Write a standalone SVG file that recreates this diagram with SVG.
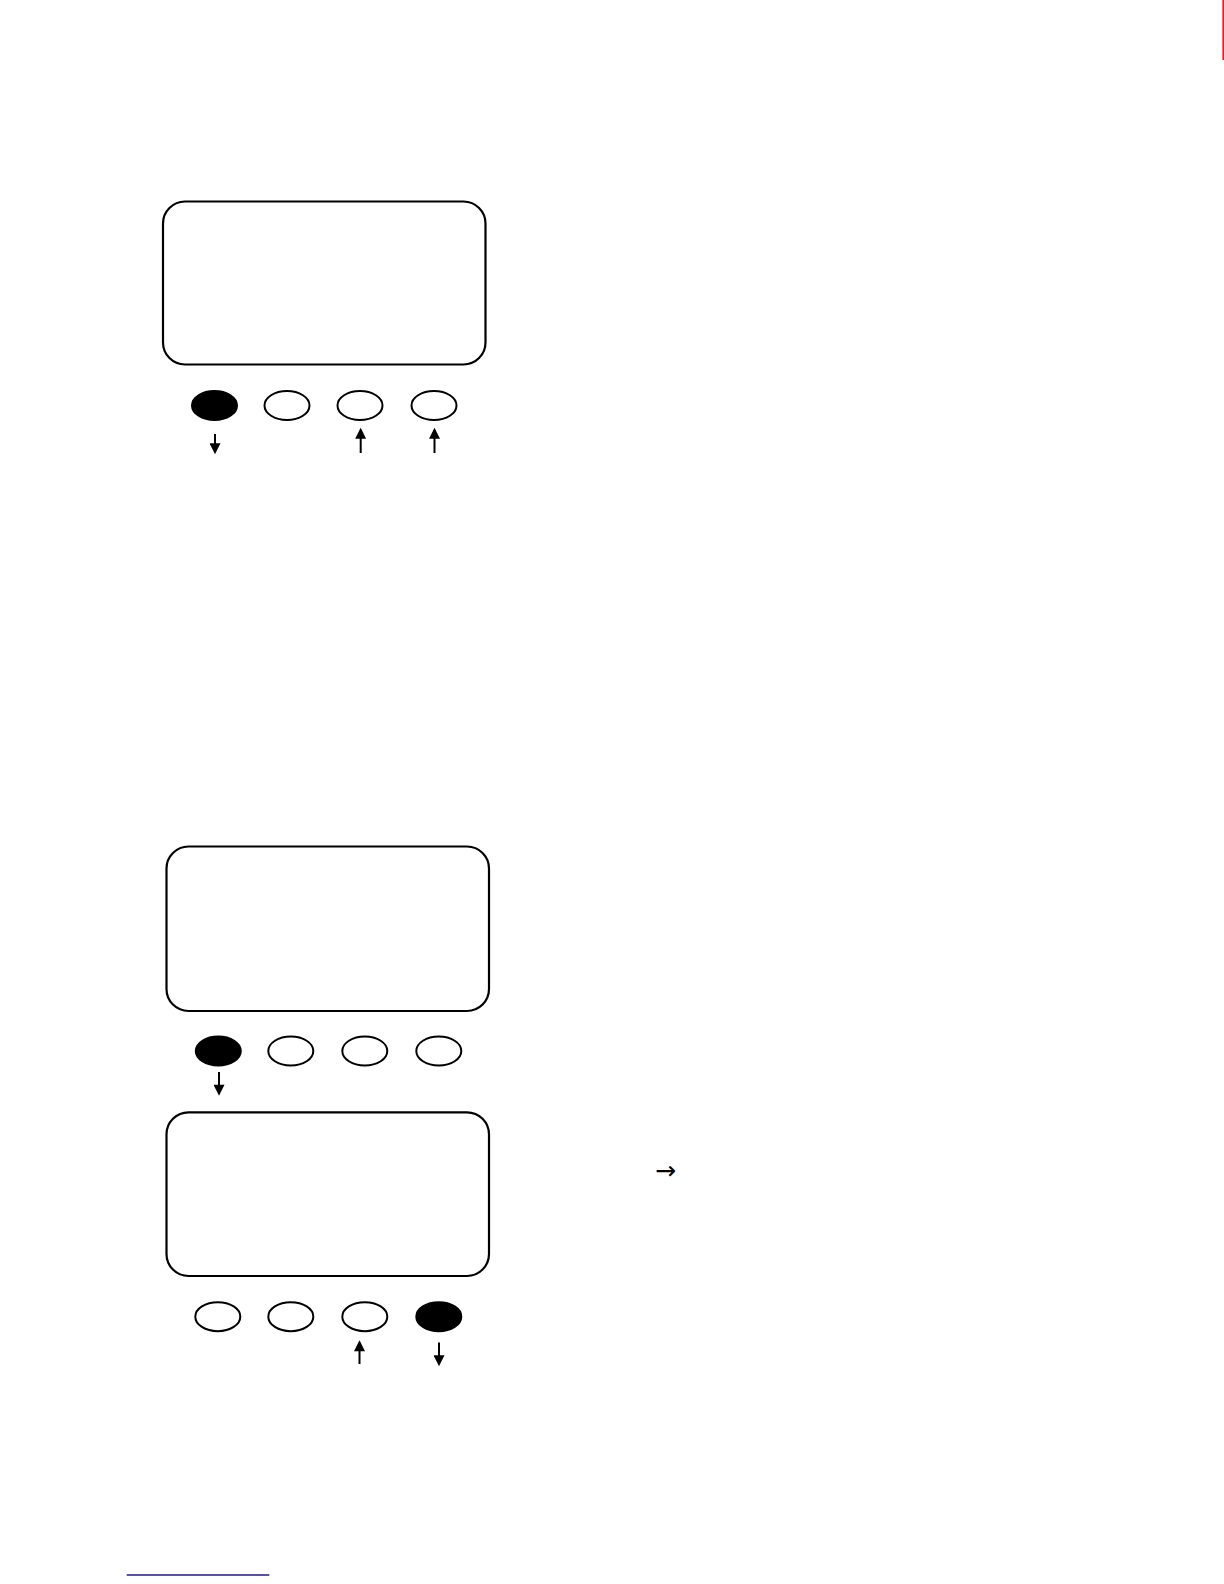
<svg xmlns="http://www.w3.org/2000/svg" width="1224" height="1584" viewBox="0 0 1224 1584">
<defs>
<style>
.screen{fill:none;stroke:#000;stroke-width:2.2}
.btn{fill:#fff;stroke:#000;stroke-width:2}
.btn-on{fill:#000;stroke:#000;stroke-width:2}
.arr{stroke:#000;stroke-width:2;fill:none;marker-end:url(#head)}
</style>
<marker id="head" viewBox="0 0 10 10" refX="8" refY="5" markerWidth="6" markerHeight="5.5" orient="auto" markerUnits="strokeWidth">
<path d="M0,0 L10,5 L0,10 Z" fill="#000"/>
</marker>
</defs>
<rect width="1224" height="1584" fill="#fff"/>
<line x1="1223.2" y1="0" x2="1223.2" y2="60" stroke="#e02020" stroke-width="1.6"/>

<g id="panel1">
<rect class="screen" x="163" y="201.5" width="322.5" height="163" rx="22" ry="22"/>
<ellipse class="btn-on" cx="214.5" cy="405.5" rx="22.5" ry="14.5"/>
<ellipse class="btn" cx="287" cy="405.5" rx="22.5" ry="14.5"/>
<ellipse class="btn" cx="360" cy="405.5" rx="22.5" ry="14.5"/>
<ellipse class="btn" cx="434" cy="405.5" rx="22.5" ry="14.5"/>
</g>

<g id="panel2">
<rect class="screen" x="166.5" y="846.5" width="322.5" height="164.5" rx="22" ry="22"/>
<ellipse class="btn-on" cx="218.3" cy="1051" rx="22.5" ry="14.5"/>
<ellipse class="btn" cx="290.8" cy="1051" rx="22.5" ry="14.5"/>
<ellipse class="btn" cx="364.8" cy="1051" rx="22.5" ry="14.5"/>
<ellipse class="btn" cx="438.8" cy="1051" rx="22.5" ry="14.5"/>
</g>

<g id="panel3">
<rect class="screen" x="166.5" y="1112.3" width="322.5" height="163.7" rx="22" ry="22"/>
<ellipse class="btn" cx="217.8" cy="1316.7" rx="22.5" ry="14.5"/>
<ellipse class="btn" cx="290.8" cy="1316.7" rx="22.5" ry="14.5"/>
<ellipse class="btn" cx="364.8" cy="1316.7" rx="22.5" ry="14.5"/>
<ellipse class="btn-on" cx="438.8" cy="1316.7" rx="22.5" ry="14.5"/>
</g>

<g id="connectors">
<line class="arr" x1="215" y1="434" x2="215" y2="452"/>
<line class="arr" x1="360.7" y1="453" x2="360.7" y2="430"/>
<line class="arr" x1="434.5" y1="453" x2="434.5" y2="430"/>
<line class="arr" x1="219" y1="1072" x2="219" y2="1093.5"/>
<line class="arr" x1="359.5" y1="1364" x2="359.5" y2="1342.5"/>
<line class="arr" x1="439" y1="1342.5" x2="439" y2="1364"/>
</g>

<text x="655" y="1179" font-family="'DejaVu Sans', sans-serif" font-size="25" fill="#000">→</text>
<line x1="126.7" y1="1575" x2="269.3" y2="1575" stroke="#1a1a8c" stroke-width="1.6"/>
</svg>
